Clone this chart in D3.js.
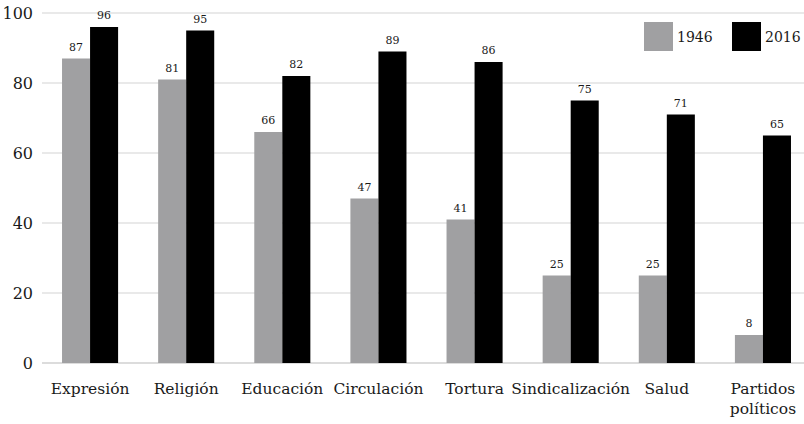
<!DOCTYPE html>
<html>
<head>
<meta charset="utf-8">
<script src="https://cdn.jsdelivr.net/npm/d3@7"></script>
<style>
  body { margin: 0; background: #fff; }
</style>
</head>
<body>
<svg id="chart" width="804" height="424" font-family="DejaVu Serif, serif" fill="#1a1a1a"></svg>
<script>
const categories = ['Expresión', 'Religión', 'Educación', 'Circulación', 'Tortura', 'Sindicalización', 'Salud', 'Partidos políticos'];
const series = ['1946', '2016'];
const values_1946 = [87, 81, 66, 47, 41, 25, 25, 8];
const values_2016 = [96, 95, 82, 89, 86, 75, 71, 65];
const y_ticks = [0, 20, 40, 60, 80, 100];

const svg = d3.select('#chart');

const color = d3.scaleOrdinal(series, ['#a0a0a2', '#000000']);

const x = d3
  .scaleBand()
  .domain(categories)
  .range([42, 811])
  .paddingInner(40 / 96)
  .paddingOuter(20 / 96);
const x_inner = d3.scaleBand().domain(series).range([0, x.bandwidth()]);
const y = d3.scaleLinear([0, 100], [363, 13]);

// gridlines
svg
  .append('g')
  .selectAll('line')
  .data(y_ticks)
  .join('line')
  .attr('x1', 42)
  .attr('x2', 811)
  .attr('y1', (d) => y(d))
  .attr('y2', (d) => y(d))
  .attr('stroke', (d) => (d === 0 ? '#d0d0d0' : '#e2e2e2'))
  .attr('stroke-width', 1.3);

svg
  .append('g')
  .selectAll('text')
  .data(y_ticks)
  .join('text')
  .attr('x', 33)
  .attr('y', (d) => y(d))
  .attr('dy', '0.35em')
  .attr('text-anchor', 'end')
  .attr('font-size', 16)
  .text((d) => d);

const rows = categories.map((c, i) => ({
  category: c,
  bars: [
    { key: '1946', value: values_1946[i] },
    { key: '2016', value: values_2016[i] },
  ],
}));

const group = svg
  .append('g')
  .selectAll('g')
  .data(rows)
  .join('g')
  .attr('transform', (d) => `translate(${x(d.category)},0)`);

group
  .selectAll('rect')
  .data((d) => d.bars)
  .join('rect')
  .attr('x', (d) => x_inner(d.key))
  .attr('width', x_inner.bandwidth())
  .attr('y', (d) => y(d.value))
  .attr('height', (d) => y(0) - y(d.value))
  .attr('fill', (d) => color(d.key));

group
  .selectAll('text.val')
  .data((d) => d.bars)
  .join('text')
  .attr('class', 'val')
  .attr('x', (d) => x_inner(d.key) + x_inner.bandwidth() / 2)
  .attr('y', (d) => y(d.value) - 8)
  .attr('text-anchor', 'middle')
  .attr('font-size', 11)
  .text((d) => d.value);

// category labels
const cat_label = svg
  .append('g')
  .selectAll('text')
  .data(categories)
  .join('text')
  .attr('x', (d) => x(d) + x.bandwidth() / 2)
  .attr('y', 394)
  .attr('text-anchor', 'middle')
  .attr('font-size', 15.5);

cat_label.each(function (d) {
  const words = d === 'Partidos políticos' ? d.split(' ') : [d];
  const t = d3.select(this);
  words.forEach((w, i) => {
    t.append('tspan')
      .attr('x', x(d) + x.bandwidth() / 2)
      .attr('dy', i === 0 ? 0 : 20)
      .text(w);
  });
});

// legend
const legend_x = [644, 732];
const legend = svg
  .append('g')
  .selectAll('g')
  .data(series)
  .join('g')
  .attr('transform', (d, i) => `translate(${legend_x[i]},22)`);
legend
  .append('rect')
  .attr('width', 29)
  .attr('height', 29)
  .attr('fill', (d) => color(d));
legend
  .append('text')
  .attr('x', 33)
  .attr('y', 15)
  .attr('dy', '0.35em')
  .attr('font-size', 14)
  .text((d) => d);
</script>
</body>
</html>
